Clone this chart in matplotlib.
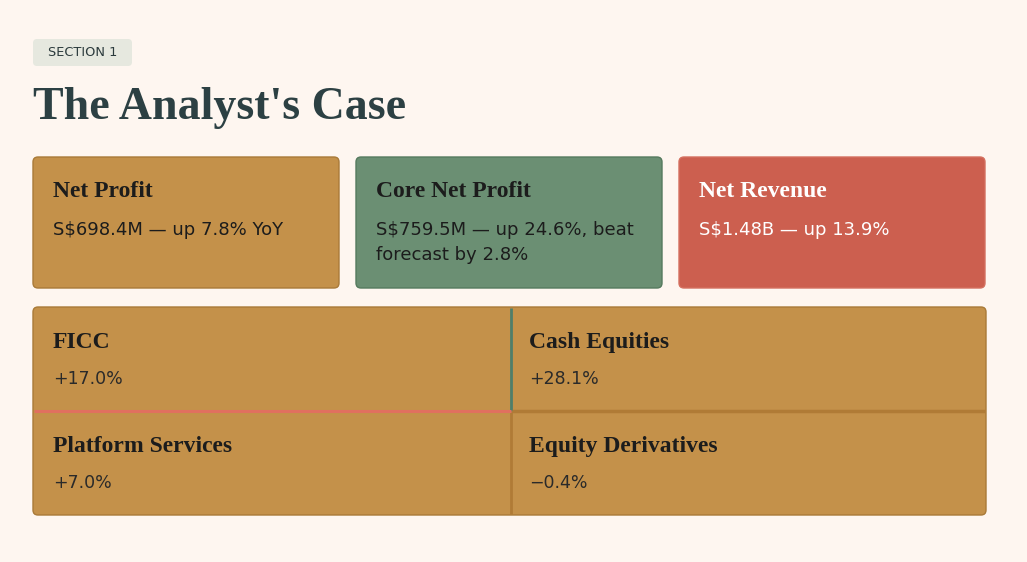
import textwrap

import matplotlib.pyplot as plt
from matplotlib.patches import FancyBboxPatch

# data
section_label = "SECTION 1"
page_title = "The Analyst's Case"

card_titles = ["Net Profit", "Core Net Profit", "Net Revenue"]
card_texts = ["S$698.4M \u2014 up 7.8% YoY",
              "S$759.5M \u2014 up 24.6%, beat forecast by 2.8%",
              "S$1.48B \u2014 up 13.9%"]
card_colors = ["#C4914A", "#6B8F73", "#CC5F4F"]
card_edges = ["#A97A38", "#557A5E", "#D4705F"]
card_text_colors = ["#1C1C1C", "#1C1C1C", "#FFFFFF"]

segments = ["FICC", "Cash Equities", "Platform Services", "Equity Derivatives"]
segment_changes = ["+17.0%", "+28.1%", "+7.0%", "\u22120.4%"]

BG = "#FEF6F0"
serif = ["Liberation Serif", "DejaVu Serif"]
sans = ["DejaVu Sans"]

fig = plt.figure(figsize=(10.27, 5.62), dpi=100, facecolor=BG)
ax = fig.add_axes([0, 0, 1, 1])
ax.set_xlim(0, 1027)
ax.set_ylim(562, 0)
ax.axis('off')
ax.set_facecolor(BG)

# section badge + title
ax.add_patch(FancyBboxPatch((33, 39), 99, 27, boxstyle="round,pad=0,rounding_size=4",
                            fc="#E6E8DF", ec="none"))
ax.text(82.5, 52.5, section_label, ha='center', va='center', fontsize=9.3,
        color="#2B3A3C", family=sans)
ax.text(33, 119, page_title, ha='left', va='baseline', fontsize=33,
        fontweight='bold', color="#2C4043", family=serif)

# top cards
card_x = [33, 356, 679]
card_w = 306
for i in range(3):
    x = card_x[i]
    ax.add_patch(FancyBboxPatch((x, 157), card_w, 131, boxstyle="round,pad=0,rounding_size=5",
                                fc=card_colors[i], ec=card_edges[i], lw=1))
    ax.text(x + 20, 197, card_titles[i], ha='left', va='baseline', fontsize=17,
            fontweight='bold', color=card_text_colors[i], family=serif)
    ax.text(x + 20, 221, textwrap.fill(card_texts[i], 26), ha='left', va='top',
            fontsize=13, color=card_text_colors[i], family=sans, linespacing=1.5)

# segment grid
gx0, gx1, gxm = 33, 986, 511
gy0, gy1, gym = 307, 515, 411
ax.add_patch(FancyBboxPatch((gx0, gy0), gx1 - gx0, gy1 - gy0,
                            boxstyle="round,pad=0,rounding_size=5",
                            fc="#C4914A", ec="#A97A38", lw=1, zorder=1))
ax.plot([gxm, gxm], [gy0 + 1, gym], color="#4F7E6A", lw=2, zorder=2, solid_capstyle='butt')
ax.plot([gxm, gxm], [gym, gy1 - 1], color="#B07B36", lw=2, zorder=2, solid_capstyle='butt')
ax.plot([gx0 + 1, gxm], [gym, gym], color="#E0705F", lw=2.2, zorder=3, solid_capstyle='butt')
ax.plot([gxm + 1, gx1 - 1], [gym, gym], color="#B07B36", lw=2.5, zorder=3, solid_capstyle='butt')

cell_x = [gx0 + 20, gxm + 18, gx0 + 20, gxm + 18]
cell_y = [gy0, gy0, gym, gym]
for i, name in enumerate(segments):
    x, y = cell_x[i], cell_y[i]
    ax.text(x, y + 41, name, ha='left', va='baseline', fontsize=17,
            fontweight='bold', color="#1C1C1C", family=serif)
    ax.text(x, y + 72, segment_changes[i], ha='left', va='center',
            fontsize=12.5, color="#2A2A2A", family=sans)

fig.savefig("out.png", dpi=100, facecolor=BG)
